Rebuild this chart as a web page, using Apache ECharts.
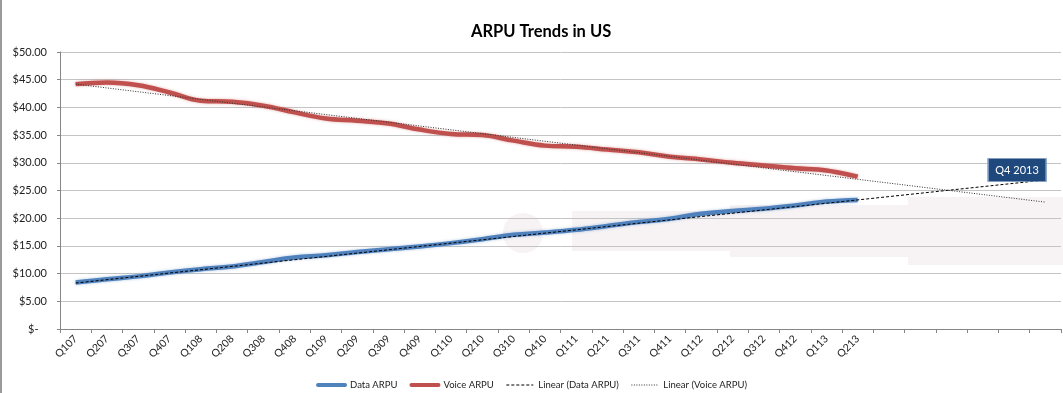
<!DOCTYPE html>
<html>
<head>
<meta charset="utf-8">
<script src="https://cdn.jsdelivr.net/npm/echarts@6/dist/echarts.min.js"></script>
<style>
html,body{margin:0;padding:0;background:#fff;}
#chart{width:1063px;height:393px;}
</style>
</head>
<body>
<div id="chart"></div>
<script>
// ---- data ----
const quarters = ['Q107','Q207','Q307','Q407','Q108','Q208','Q308','Q408','Q109','Q209','Q309','Q409','Q110',
                  'Q210','Q310','Q410','Q111','Q211','Q311','Q411','Q112','Q212','Q312','Q412','Q113','Q213'];
const forecastPeriods = 6; // trendline forecast forward (unlabelled periods)
const dataARPU  = [8.4, 9.0, 9.5, 10.2, 10.8, 11.3, 12.1, 12.9, 13.3, 13.9, 14.4, 14.9, 15.5,
                   16.2, 17.0, 17.4, 17.9, 18.6, 19.3, 19.9, 20.8, 21.3, 21.7, 22.3, 23.0, 23.3];
const voiceARPU = [44.2, 44.5, 44.0, 42.7, 41.2, 41.0, 40.3, 39.1, 38.0, 37.6, 37.1, 36.0, 35.2,
                   35.0, 34.0, 33.1, 32.9, 32.4, 31.9, 31.1, 30.6, 30.0, 29.5, 29.0, 28.6, 27.5];
// trendline endpoints: [first period, last forecast period]
const dataTrendEnds  = [8.3, 26.9];
const voiceTrendEnds = [44.2, 22.9];
const callout = {label: 'Q4 2013', period: 30, value: 28.7};

// ---- build ----
const categories = quarters.concat(Array.from({length: forecastPeriods}, () => ''));
const n = categories.length;
function trendSeries(ends){
  const arr = new Array(n).fill(null);
  arr[0] = ends[0];
  arr[n-1] = ends[1];
  return arr;
}

const chart = echarts.init(document.getElementById('chart'), null, {renderer: 'canvas'});
const FONT = 'Lato, "Open Sans", sans-serif';
const wm = '#F7F3F4';

chart.setOption({
  animation: false,
  backgroundColor: '#ffffff',
  title: {
    text: 'ARPU Trends in US',
    left: 466,
    top: 18,
    textStyle: {fontFamily: FONT, fontSize: 16.5, fontWeight: 'bold', color: '#000'}
  },
  graphic: [
    {type: 'rect', z: -10, silent: true, shape: {x: 572, y: 211, width: 160, height: 40}, style: {fill: wm}},
    {type: 'rect', z: -10, silent: true, shape: {x: 730, y: 205, width: 180, height: 52}, style: {fill: wm}},
    {type: 'rect', z: -10, silent: true, shape: {x: 908, y: 197, width: 155, height: 68}, style: {fill: wm}},
    {type: 'circle', z: -10, silent: true, shape: {cx: 523, cy: 233, r: 20}, style: {fill: wm}},
    {type: 'line', z: 10, silent: true, shape: {x1: 1, y1: 0, x2: 1, y2: 393}, style: {stroke: '#9a9a9a', lineWidth: 2}}
  ],
  legend: {
    top: 375,
    left: 'center',
    itemWidth: 27,
    itemHeight: 6,
    itemGap: 12,
    itemStyle: {opacity: 0},
    textStyle: {fontFamily: FONT, fontSize: 9.5, color: '#222'},
    data: [
      {name: 'Data ARPU', lineStyle: {width: 4, cap: 'round'}},
      {name: 'Voice ARPU', lineStyle: {width: 4, cap: 'round'}},
      {name: 'Linear (Data ARPU)', lineStyle: {width: 1}},
      {name: 'Linear (Voice ARPU)', lineStyle: {width: 1}}
    ]
  },
  grid: {left: 60, right: 2, top: 52, bottom: 64},
  xAxis: {
    type: 'category',
    data: categories,
    boundaryGap: true,
    axisLine: {lineStyle: {color: '#868686', width: 1}},
    axisTick: {show: true, interval: 0, length: 4, lineStyle: {color: '#868686'}},
    axisLabel: {interval: 0, rotate: 45, margin: 8, fontFamily: FONT, fontSize: 10.5, color: '#222'}
  },
  yAxis: {
    type: 'value',
    min: 0,
    max: 50,
    interval: 5,
    axisLine: {show: true, lineStyle: {color: '#868686', width: 1}},
    axisTick: {show: true, length: 3, lineStyle: {color: '#868686'}},
    splitLine: {lineStyle: {color: '#c4c4c4', width: 1}},
    axisLabel: {
      margin: 13,
      fontFamily: FONT, fontSize: 11, color: '#222',
      formatter: v => v === 0 ? '$-   ' : '$' + v.toFixed(2)
    }
  },
  series: [
    {
      name: 'Data ARPU', type: 'line', data: dataARPU, smooth: 0.4,
      symbol: 'none', z: 3,
      lineStyle: {color: '#4F81BD', width: 4.5, shadowColor: 'rgba(79,129,189,0.45)', shadowBlur: 3},
      itemStyle: {color: '#4F81BD'}
    },
    {
      name: 'Voice ARPU', type: 'line', data: voiceARPU, smooth: 0.4,
      symbol: 'none', z: 3,
      lineStyle: {color: '#C0504D', width: 4.5, shadowColor: 'rgba(192,80,77,0.45)', shadowBlur: 3},
      itemStyle: {color: '#C0504D'}
    },
    {
      name: 'Linear (Data ARPU)', type: 'line', data: trendSeries(dataTrendEnds), connectNulls: true,
      symbol: 'none', z: 4,
      lineStyle: {color: '#000', width: 1, type: [3, 2]},
      itemStyle: {color: '#000'},
      markPoint: {
        symbol: 'rect',
        symbolSize: [58, 23],
        symbolOffset: [3, 0],
        itemStyle: {color: '#1F497D', borderColor: '#7f9cc4', borderWidth: 1, opacity: 1},
        label: {show: true, color: '#fff', fontFamily: FONT, fontSize: 11, formatter: () => callout.label},
        data: [{coord: [callout.period, callout.value]}]
      }
    },
    {
      name: 'Linear (Voice ARPU)', type: 'line', data: trendSeries(voiceTrendEnds), connectNulls: true,
      symbol: 'none', z: 4,
      lineStyle: {color: '#333', width: 1, type: [1, 1.5]},
      itemStyle: {color: '#333'}
    }
  ]
});
</script>
</body>
</html>
